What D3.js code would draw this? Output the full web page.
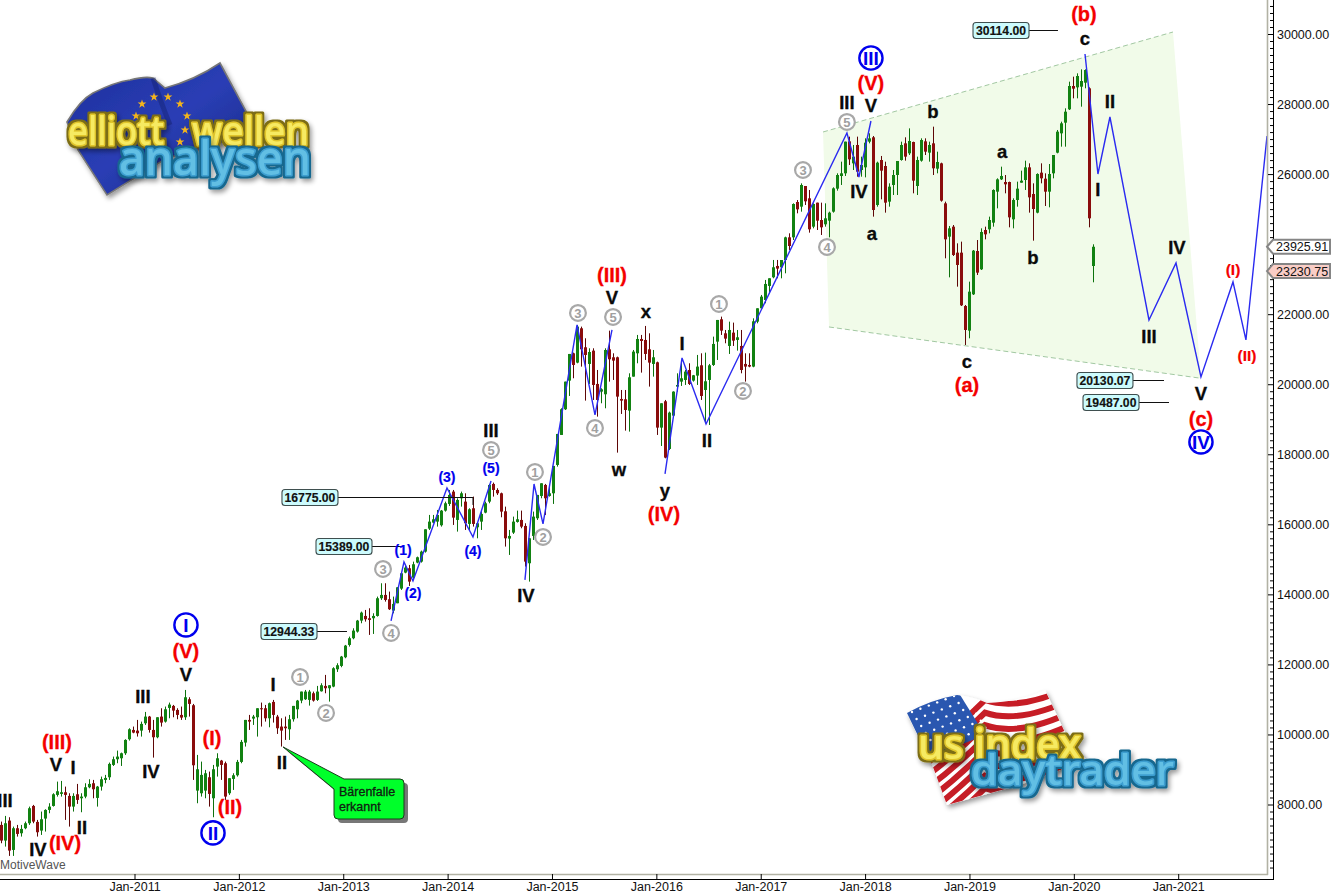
<!DOCTYPE html>
<html><head><meta charset="utf-8">
<style>html,body{margin:0;padding:0;background:#fff;overflow:hidden}svg{display:block}text{font-family:"Liberation Sans",Arial,sans-serif}</style>
<script src="https://cdn.jsdelivr.net/npm/d3@7"></script></head><body>
<svg id="c" width="1333" height="896"></svg>
<script>
// ---- data (two-week candles) ----
const firstCandleYear = 2009.724;
const candleStepDays = 14;
const open = [
7417,6970,7541,6703,7322,7179,7322,7465,7959,7503,
7255,7598,7845,7959,8274,8302,8350,8245,7940,8292,
8178,8226,8492,8607,8188,8511,8702,8778,9130,9292,
9320,9463,9863,10129,10110,10110,10320,10510,10129,9920,
10510,10367,10757,10815,10700,10558,10491,11005,10834,8397,
8321,8397,8778,8178,9082,9254,9178,8321,8730,8835,
9216,9768,10415,10453,10491,10748,10748,10462,10929,10510,
10225,10225,10148,10434,10719,10967,11005,10986,11176,10986,
11233,11386,11319,11367,11861,11957,12204,12556,12747,12937,
13251,13384,13318,13318,13384,13889,13984,13860,13536,13746,
14164,14621,14745,14478,14907,14935,15221,15877,16049,16077,
15973,16391,16582,16934,16125,16743,16648,16011,16458,15916,
16077,16334,16648,17153,16981,16886,16372,15592,15763,16068,
16125,15954,14888,15668,16173,16810,17124,16810,16886,17695,
18552,19285,20103,20883,20617,21597,21055,20579,20959,20008,
19789,19713,20997,20769,20769,19579,19570,19246,20217,20883,
21292,21264,20997,20579,20626,18761,19513,18152,19103,19932,
20074,20122,20407,20103,20246,20541,19836,20122,20550,21216,
21854,21454,21093,21473,21264,21093,20579,20550,20503,21787,
22168,22406,22806,23053,23377,23338,23547,24194,24194,25203,
25070,25660,25308,24499,25184,24689,24566,24670,24927,25584,
25946,26022,26935,26307,26831,26117,26193,26926,27050,25118,
26402,26231,25213,25689,25974,26402,26878,26593,26916,25660,
26383,26935,26612,26878,26155,26307,25165,24213,24499,23757,
23757,22234,21530,22567,23804,23281,24404,24423,24613,25498,
25850,25774,25774,24708,25260,25755,25831,26193,25432,24899,
26041,25869,25498,26022,26612,27164,27468,27849,28515,28477,
28496,28610,28449,23376];
const high = [
7512,7674,7636,7369,7417,7417,7512,7940,7988,7560,
7798,7864,8036,8321,8654,8673,8511,8321,8321,8588,
8321,8607,8721,8702,8530,8797,8845,9197,9368,9539,
9482,9863,10177,10225,10415,10367,10643,10529,10415,10491,
10748,10796,10910,10843,10748,10796,11271,11062,10872,9416,
9225,8987,8940,9130,9463,9273,9225,8750,8892,9273,
9844,10415,10558,10558,10748,10910,10843,10910,10986,10558,
10462,10510,10558,10815,10986,11224,11271,11271,11224,11386,
11462,11700,11405,11919,12033,12242,12556,12794,13032,13270,
13508,13555,13603,13460,13936,14317,14317,14079,13936,14202,
14621,14840,14840,14935,15078,15249,15858,16268,16268,16410,
16410,16648,16981,16981,16743,16934,16886,16458,16791,16030,
16410,16648,17153,17191,17029,16905,16505,15839,16220,16391,
16391,16030,15601,16363,16839,17172,17153,17124,17667,18580,
19313,20074,20864,20902,21692,21645,21312,21026,21026,20407,
19884,21026,21530,20883,20788,19836,19836,20312,20978,21407,
21407,21664,21454,20978,20645,19456,19551,19218,19798,20312,
20693,20407,20598,20265,20836,20883,20902,20579,21359,21835,
21930,21549,21787,21759,21549,21549,20883,20883,21882,22168,
22549,22977,23025,23548,23548,23547,24213,24309,25165,25260,
25736,25660,25546,25165,25184,25184,25165,24927,25622,26022,
26355,26926,27069,26831,27069,26498,27021,27164,27088,26355,
26517,26355,25736,26117,26374,26926,27050,27306,26926,26498,
27021,27021,26926,27354,26640,26326,25213,24518,24546,24023,
24071,22262,22929,23833,24118,24451,24499,24785,25565,25879,
26212,25974,25784,25308,25784,26098,26383,26307,25736,26022,
26307,26022,26288,26545,27259,27497,27878,28639,28782,28877,
28991,28991,28477,23995];
const low = [
6894,6798,6532,6532,7084,7084,7293,7417,7465,7084,
7131,7227,7750,7940,8226,8226,7560,7369,7798,8017,
7779,8178,8464,8178,7940,8397,8607,8702,9101,9178,
9101,9416,9825,10034,9939,9939,10272,10053,9339,9891,
10225,10339,10462,10491,10434,10415,10415,10510,8702,8036,
8226,8178,7940,7636,8797,8702,8131,8274,8416,8797,
9178,9654,10129,10272,9939,10225,10367,10205,10339,10015,
9654,9844,9844,10367,10462,10891,10986,10824,10938,10957,
11224,11176,10938,11348,11785,11919,12176,12509,12718,12908,
13175,13222,12842,12870,13365,13841,13793,13555,13460,13746,
14126,14602,14241,14412,14888,14907,15192,15839,16030,15935,
15935,16363,16525,15982,15792,16505,15839,15839,15935,15601,
15839,16315,16601,16791,16839,16201,15364,15126,15725,16049,
15887,14793,14364,15554,16125,16743,16268,16791,16582,17648,
18552,19265,19665,20170,20598,20503,19532,20008,19551,19075,
19456,19313,20074,20122,18047,19151,18675,18647,20217,20598,
20331,20693,19932,20217,18552,18237,17885,18123,19075,19789,
19951,19979,19979,20074,19979,19551,18885,18837,20522,20693,
21407,21169,20864,21093,20959,20312,20074,20484,20484,21740,
22168,22311,22596,23025,23025,23024,23167,23833,24118,24880,
24927,25118,24328,24451,24404,24261,24499,24194,24899,25527,
25689,25946,26260,26117,25926,25926,25907,26878,24785,25070,
25279,24899,25070,25403,25403,26383,26383,26545,25451,25403,
26355,26545,26355,25974,26022,25213,23595,23052,23661,22786,
22234,21120,21311,22548,23119,23262,24137,24309,24499,25022,
25831,25451,24480,24451,25070,25755,25546,24899,24099,24880,
25736,25089,25051,25879,26593,26783,26783,27830,28163,28163,
27925,28449,24480,22910];
const close = [
6970,7465,6684,7322,7160,7303,7465,7893,7512,7208,
7579,7845,7940,8292,8378,8350,8274,7940,8245,8131,
8226,8492,8588,8435,8511,8721,8759,9159,9292,9368,
9463,9844,10148,10053,10034,10301,10510,10129,9920,10491,
10339,10719,10853,10681,10558,10481,11062,10872,9120,9006,
8845,8892,8302,9006,9320,9130,8226,8750,8835,9216,
9787,10415,10367,10510,10748,10719,10462,10891,10558,10177,
10110,10177,10434,10815,10967,11224,11224,11224,10967,11224,
11405,11319,11405,11890,11976,12223,12537,12747,12965,13251,
13479,13289,13270,13384,13889,13984,13841,13575,13727,14202,
14602,14764,14364,14859,15059,15221,15858,16077,16144,16268,
16391,16601,16839,16191,16696,16886,16030,16429,16011,16030,
16296,16601,17124,16981,16886,16363,15601,15668,16077,16144,
15934,14935,15601,16220,16839,17172,16743,16886,17667,18580,
19285,20074,20864,20550,21645,20997,20836,20921,19979,19551,
19855,20978,20712,20674,19646,19532,19265,20198,20931,21292,
21235,20864,20617,20769,18761,19456,17904,19189,19789,19979,
20170,20360,20008,20255,20503,19665,20084,20541,21150,21835,
21530,21302,21549,21245,21340,20407,20503,20503,21797,22168,
22501,22863,23025,23339,23301,23547,24194,23947,25146,24994,
25689,25222,24423,25146,24670,24480,24737,24899,25593,25974,
26022,26926,26421,26498,26069,26260,26897,27021,24975,26326,
26098,25184,25641,25974,26374,26831,26498,26945,25812,26402,
26973,26640,26831,26165,26345,25241,24137,24451,23690,23405,
22253,21549,22643,23814,23186,24347,24280,24689,25546,25850,
25946,25708,24765,25260,25584,25812,26193,25336,25003,26003,
25879,25498,26003,26545,27211,27449,27782,28515,28439,28801,
28658,28972,24737,23925];

const yearTicks = [2011,2012,2013,2014,2015,2016,2017,2018,2019,2020,2021];
const priceMajorTicks = [8000,10000,12000,14000,16000,18000,20000,22000,24000,26000,28000,30000];

// blue projected / counted wave paths
const waveAYears = [2013.458,2013.582,2013.668,2013.994,2014.243,2014.416];
const waveAPrices = [13241,14926,14383,17038,15639,17238];
const waveBYears = [2014.741,2014.828,2014.914,2015.240,2015.412,2015.575];
const waveBPrices = [14412,17152,16010,21692,19122,21549];
const waveCYears = [2016.083,2016.246,2016.476,2017.826,2017.941,2018.056];
const waveCPrices = [17438,20750,18865,27174,25917,27516];
const waveDYears = [2020.107,2020.231,2020.346,2020.720,2020.979,2021.218,2021.525,2021.649,2021.851];
const waveDPrices = [29429,26003,27630,21835,23462,20207,22920,21264,27088];

// pale green channel corners
const channelYears = [2017.597,2020.950,2021.218,2017.654];
const channelPrices = [27202,30057,20170,21635];

// wave labels
const blackLabels = ["III","IV","V","I","II","III","IV","V","I","II","III","IV","V","x","w","y","I","II","III","V","IV","a","b","a","b","c","c","II","I","IV","III","V"];
const blackYears = [2009.759,2010.075,2010.248,2010.411,2010.497,2011.081,2011.158,2011.493,2012.327,2012.413,2014.416,2014.751,2015.575,2015.901,2015.642,2016.083,2016.246,2016.485,2017.826,2018.056,2017.941,2018.066,2018.650,2019.312,2019.609,2018.976,2020.107,2020.346,2020.231,2020.988,2020.720,2021.218];
const blackPrices = [8131,6732,9158,9073,7360,11100,8959,11728,11442,9216,18694,13983,22491,22092,17581,16981,21178,18409,28059,27973,25518,24319,27802,26660,23633,20664,29886,28087,25575,23919,21378,19751];
const redLabels = ["(III)","(IV)","(V)","(I)","(II)","(III)","(IV)","(V)","(b)","(a)","(c)"];
const redYears = [2010.257,2010.334,2011.493,2011.743,2011.915,2015.575,2016.073,2018.056,2020.097,2018.976,2021.218];
const redPrices = [9787,6903,12385,9901,7931,23119,16296,28601,30571,19979,19008];
const smallRedLabels = ["(I)","(II)"];
const smallRedYears = [2021.525,2021.659];
const smallRedPrices = [23291,20835];
const blueLabels = ["(1)","(2)","(3)","(4)","(5)"];
const blueYears = [2013.573,2013.668,2013.994,2014.243,2014.416];
const bluePrices = [15268,14041,17352,15240,17609];
const blueCircleLabels = ["I","II","III","IV"];
const blueCircleYears = [2011.493,2011.752,2018.056,2021.218];
const blueCirclePrices = [13127,7189,29315,18352];
const grayCircleLabels = ["1","2","3","4","5","1","2","3","5","4","1","2","3","5","4"];
const grayCircleYears = [2012.586,2012.835,2013.381,2013.458,2014.416,2014.837,2014.914,2015.249,2015.585,2015.412,2016.600,2016.830,2017.405,2017.826,2017.635];
const grayCirclePrices = [11642,10615,14726,12899,18123,17495,15639,22035,21920,18751,22291,19808,26117,27488,23919];

// price boxes with leader lines
const boxPrices = [30114.00,16775.00,15389.00,12944.33,20130.07,19487.00];
const boxLeftYears = [2019.034,2012.413,2012.739,2012.212,2020.030,2020.088];
const boxEndYears = [2019.848,2014.243,2013.573,2013.036,2020.864,2020.912];
const boxDropPrices = [null,16553,null,null,null,null];

// last-price tags
const tagPrices = [23925.91,23230.75];
const tagFills = ["#ffffff","#f9cdc6"];

const calloutTipYear = 2012.423, calloutTipPrice = 9644;
const calloutLines = ["Bärenfalle","erkannt"];

// ---- scales ----
const x = d3.scaleLinear().domain([2011,2021]).range([134.5,1178.2]);
const y = d3.scaleLinear().domain([30000,8000]).range([34,804.5]);
const svg = d3.select("#c");
const defs = svg.append("defs");
defs.append("clipPath").attr("id","plot").append("rect").attr("x",0).attr("y",0).attr("width",1267).attr("height",874);
const f = defs.append("filter").attr("id","soft").attr("x","-10%").attr("y","-10%").attr("width","125%").attr("height","130%");
f.append("feDropShadow").attr("dx",2).attr("dy",3).attr("stdDeviation",2.5).attr("flood-color","#000").attr("flood-opacity",.4);

// outlined logo lettering: one text element, edge and shadow come from the filter
function edgeFilter(id,edge){
  const e=defs.append("filter").attr("id",id).attr("x","-8%").attr("y","-25%").attr("width","118%").attr("height","160%");
  e.append("feMorphology").attr("in","SourceAlpha").attr("operator","dilate").attr("radius",1.5).attr("result","fat");
  e.append("feFlood").attr("flood-color",edge).attr("result","col");
  e.append("feComposite").attr("in","col").attr("in2","fat").attr("operator","in").attr("result","rim");
  e.append("feGaussianBlur").attr("in","fat").attr("stdDeviation",2.4).attr("result","bl");
  e.append("feOffset").attr("in","bl").attr("dx",2).attr("dy",3).attr("result","off");
  e.append("feComponentTransfer").attr("in","off").attr("result","sh").append("feFuncA").attr("type","linear").attr("slope",.4);
  const m=e.append("feMerge");
  ["sh","rim","SourceGraphic"].forEach(n=>m.append("feMergeNode").attr("in",n));
}
edgeFilter("goldEdge","#7c6d12");
edgeFilter("blueEdge","#17688f");

const plot = svg.append("g").attr("clip-path","url(#plot)");

// channel
const chPts = channelYears.map((v,i)=>[x(v),y(channelPrices[i])]);
plot.append("polygon").attr("points",chPts.map(p=>p.join(",")).join(" ")).attr("fill","#f1fbe9");
[[0,1],[3,2]].forEach(([a,b])=>plot.append("line")
  .attr("x1",chPts[a][0]).attr("y1",chPts[a][1]).attr("x2",chPts[b][0]).attr("y2",chPts[b][1])
  .attr("stroke","#a2c8a2").attr("stroke-width",1).attr("stroke-dasharray","5,3"));

// candles
const stepYears = candleStepDays/365.25;
const cx = i => Math.round(x(firstCandleYear+i*stepYears)-0.5)+0.5;
const g = plot.append("g");
const idx = d3.range(open.length);
g.selectAll("line.w").data(idx).join("line").attr("class","w")
  .attr("x1",cx).attr("x2",cx).attr("y1",i=>y(high[i])).attr("y2",i=>y(low[i]))
  .attr("stroke",i=>close[i]>=open[i]?"#0d720d":"#5e0606").attr("stroke-width",1);
g.selectAll("rect").data(idx).join("rect")
  .attr("x",i=>cx(i)-1.5).attr("width",3)
  .attr("y",i=>y(Math.max(open[i],close[i])))
  .attr("height",i=>Math.max(1,Math.abs(y(open[i])-y(close[i]))))
  .attr("fill",i=>close[i]>=open[i]?"#128212":"#8a0c0c");

// wave paths
const line = d3.line().x(d=>x(d[0])).y(d=>y(d[1]));
[[waveAYears,waveAPrices],[waveBYears,waveBPrices],[waveCYears,waveCPrices],[waveDYears,waveDPrices]].forEach(([xs,ps])=>{
  plot.append("path").attr("d",line(xs.map((v,i)=>[v,ps[i]]))).attr("fill","none").attr("stroke","#2a2af0").attr("stroke-width",1.4);
});

// price boxes
boxPrices.forEach((p,i)=>{
  const l=x(boxLeftYears[i]), py=y(p), e=x(boxEndYears[i]);
  const yy=Math.round(py)+.5;
  let d=`M${l+56},${yy}H${e}`;
  if(boxDropPrices[i]!=null) d+=`V${y(boxDropPrices[i])}`;
  svg.append("path").attr("d",d).attr("fill","none").attr("stroke","#111").attr("stroke-width",1);
  svg.append("rect").attr("x",l).attr("y",yy-8).attr("width",56).attr("height",16).attr("rx",3)
    .attr("fill","#ccfbfd").attr("stroke","#3f4f4f").attr("stroke-width",1.1);
  svg.append("text").attr("x",l+28).attr("y",yy+4.5).attr("text-anchor","middle")
    .attr("font-size",12.2).attr("font-weight","bold").attr("fill","#111").attr("stroke","#111").attr("stroke-width",.15).text(p.toFixed(2));
});

// labels
function lab(texts,xs,ps,size,color,sw){
  svg.append("g").selectAll("text").data(texts).join("text")
    .attr("x",(d,i)=>x(xs[i])).attr("y",(d,i)=>y(ps[i])).attr("dy",".36em")
    .attr("text-anchor","middle").attr("font-size",size).attr("font-weight","bold").attr("fill",color)
    .attr("stroke",color).attr("stroke-width",sw)
    .text(d=>d);
}
lab(blackLabels,blackYears,blackPrices,18.5,"#0a0a0a",.3);
lab(redLabels,redYears,redPrices,20,"#f40000",.3);
lab(smallRedLabels,smallRedYears,smallRedPrices,15.5,"#f40000",.2);
lab(blueLabels,blueYears,bluePrices,14,"#0000ee",.2);

const bc = svg.append("g").selectAll("g").data(blueCircleLabels).join("g")
  .attr("transform",(d,i)=>`translate(${x(blueCircleYears[i])},${y(blueCirclePrices[i])})`);
bc.append("circle").attr("r",11.6).attr("fill","#fff").attr("stroke","#0000ee").attr("stroke-width",2.4);
bc.append("text").attr("dy",".36em").attr("text-anchor","middle").attr("font-size",19).attr("font-weight","bold").attr("fill","#0000ee").text(d=>d);

const gc = svg.append("g").selectAll("g").data(grayCircleLabels).join("g")
  .attr("transform",(d,i)=>`translate(${x(grayCircleYears[i])},${y(grayCirclePrices[i])})`);
gc.append("circle").attr("r",7.9).attr("fill","#fff").attr("stroke","#a8a8a8").attr("stroke-width",2.2);
gc.append("text").attr("dy",".36em").attr("text-anchor","middle").attr("font-size",13).attr("font-weight","bold").attr("fill","#a0a0a0").text(d=>d);

// callout
const tx=x(calloutTipYear), ty=y(calloutTipPrice);
const box={x:334,y:779,w:70,h:40};
const callPath=`M${tx},${ty}L${box.x+10},${box.y}H${box.x+box.w-4}Q${box.x+box.w},${box.y} ${box.x+box.w},${box.y+4}V${box.y+box.h-4}Q${box.x+box.w},${box.y+box.h} ${box.x+box.w-4},${box.y+box.h}H${box.x+4}Q${box.x},${box.y+box.h} ${box.x},${box.y+box.h-4}V${box.y+10}Z`;
svg.append("path").attr("d",callPath).attr("fill","#777").attr("transform","translate(4,4)");
svg.append("path").attr("d",callPath).attr("fill","#00ff2a").attr("stroke","#1a3a1a").attr("stroke-width",1);
calloutLines.forEach((t,i)=>svg.append("text").attr("x",339).attr("y",796+i*15).attr("font-size",12.5).attr("fill","#102010").attr("stroke","#102010").attr("stroke-width",.3).text(t));

// axes frame
svg.append("line").attr("x1",0).attr("x2",1268).attr("y1",874.5).attr("y2",874.5).attr("stroke","#b2b2a4").attr("stroke-width",1.6);
svg.append("line").attr("x1",1267.5).attr("x2",1267.5).attr("y1",0).attr("y2",875).attr("stroke","#b2b2a4").attr("stroke-width",1.6);

const ax = svg.append("g").attr("transform","translate(0,874)")
  .call(d3.axisBottom(x).tickValues(yearTicks).tickSize(5).tickPadding(3).tickFormat(d=>"Jan-"+d));
ax.select(".domain").remove();
ax.selectAll("text").attr("font-size",12.5).attr("fill","#111").attr("font-family",'"Liberation Sans",Arial,sans-serif');
ax.selectAll("line").attr("stroke","#000");

const ay = svg.append("g").attr("transform","translate(1268,0)")
  .call(d3.axisRight(y).tickValues(priceMajorTicks).tickSize(5).tickPadding(4).tickFormat(d=>d3.format(".2f")(d)));
ay.select(".domain").remove();
ay.selectAll("text").attr("font-size",12.5).attr("fill","#111").attr("font-family",'"Liberation Sans",Arial,sans-serif');
ay.selectAll("line").attr("stroke","#000");

const minor = d3.range(5000,31001,200).filter(v=>y(v)<874 && v%2000!==0);
const am = svg.append("g").attr("transform","translate(1270,0)").call(d3.axisRight(y).tickValues(minor).tickSize(3).tickFormat(""));
am.select(".domain").remove(); am.selectAll("line").attr("stroke","#000");

svg.append("line").attr("x1",0).attr("x2",1273.5).attr("y1",879.5).attr("y2",879.5).attr("stroke","#000").attr("stroke-width",1);
svg.append("line").attr("x1",1273.5).attr("x2",1273.5).attr("y1",0).attr("y2",880).attr("stroke","#000").attr("stroke-width",1);

// last-price tags
tagPrices.forEach((p,i)=>{
  const cy=y(p);
  svg.append("path").attr("d",`M1267,${cy}L1273,${cy-7}H1330V${cy+7}H1273Z`).attr("fill",tagFills[i]).attr("stroke","#858585").attr("stroke-width",2);
  svg.append("text").attr("x",1276).attr("y",cy+4.5).attr("font-size",12.5).attr("fill","#111").text(p.toFixed(2));
});

svg.append("text").attr("x",0).attr("y",869).attr("font-size",12).attr("fill","#555").text("MotiveWave");

// ---- logos ----
function logoText(t,xx,yy,len,size,fill,mid,filterId){
  svg.append("text").attr("x",xx).attr("y",yy).attr("font-size",size)
    .attr("textLength",len).attr("lengthAdjust","spacingAndGlyphs")
    .attr("stroke-linejoin","round").attr("stroke-linecap","round")
    .style("font-family",'"Noto Sans",sans-serif').style("font-weight",500)
    .attr("fill",fill).attr("stroke",mid).attr("stroke-width",3.2).attr("paint-order","stroke")
    .attr("filter",`url(#${filterId})`).text(t);
}
const eu = defs.append("linearGradient").attr("id","eu").attr("x1",0).attr("y1",0).attr("x2",1).attr("y2",1);
eu.append("stop").attr("offset",0).attr("stop-color","#1d2f9c");
eu.append("stop").attr("offset",.5).attr("stop-color","#2a3eb5");
eu.append("stop").attr("offset",1).attr("stop-color","#17267f");
svg.append("path").attr("d","M67,122 Q80,100 93,93 Q115,82 130,80 Q145,76 153,78 L165,88 Q195,80 220,63 L247,113 L250,133 L205,148 L167,158 L107,195 L78,150 Z")
  .attr("fill","url(#eu)").attr("stroke","#777").attr("stroke-width",1.6).attr("filter","url(#soft)");
svg.append("path").attr("d","M153,78 Q160,100 170,125").attr("fill","none").attr("stroke","#15226f").attr("stroke-width",5).attr("opacity",.45);
[[142,104],[154,97],[168,97],[180,104],[187,116],[136,116],[185,130],[180,142]].forEach(s=>{
  svg.append("path").attr("d",d3.symbol(d3.symbolStar,24)()).attr("transform",`translate(${s[0]},${s[1]})`).attr("fill","#f3b41c");
});
logoText("elliott",68,145,96,40,"#f6ea62","#e0c52c","goldEdge");
logoText("wellen",192,145,117,40,"#f6ea62","#e0c52c","goldEdge");
logoText("analysen",119,175,192,47,"#62bfe4","#3c9ed0","blueEdge");

// US logo
const usPath="M907,713 Q930,700 957,695 Q975,697 987,703 Q1020,702 1045,690 L1070,743 L1087,760 L1020,785 L947,805 L933,767 Z";
defs.append("clipPath").attr("id","us").append("path").attr("d",usPath);
svg.append("path").attr("d",usPath).attr("fill","#fff").attr("filter","url(#soft)");
const us = svg.append("g").attr("clip-path","url(#us)");
d3.range(0,11).forEach(i=>{
  const o=i*12.6;
  us.append("path").attr("d",`M925,${752+o} Q955,${730+o} 985,${700+o} Q1020,${712+o} 1075,${685+o}`).attr("fill","none").attr("stroke","#c61d26").attr("stroke-width",6);
});
us.append("path").attr("d","M900,712 L957,690 L985,735 L930,757 Z").attr("fill","#2a57b0");
d3.range(0,6).forEach(r=>d3.range(0,7).forEach(c=>{
  us.append("circle").attr("cx",912+c*8.4+r*4.6).attr("cy",712-c*3.2+r*7).attr("r",1.2).attr("fill","#fff");
}));
logoText("us index",918,759,163,42,"#f6ea62","#e0c52c","goldEdge");
logoText("daytrader",971,785,203,41,"#62bfe4","#3c9ed0","blueEdge");
</script></body></html>
